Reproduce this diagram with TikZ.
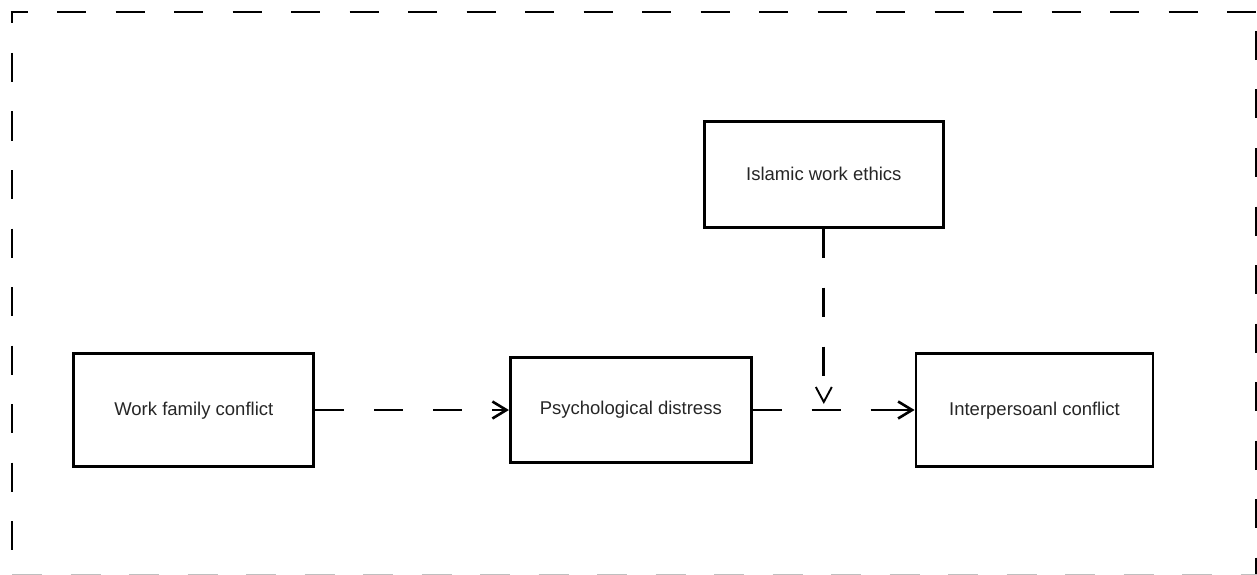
\documentclass[tikz,border=0pt]{standalone}
\usepackage{fontspec}
\setmainfont{Liberation Sans}
\usetikzlibrary{arrows.meta}
\begin{document}
\begin{tikzpicture}[x=1pt,y=-1pt,
  box/.style={draw, line width=2.8pt, inner sep=0pt, text=black!85,
    font=\fontsize{18.5}{22}\selectfont},
  border/.style={line width=2.6pt},
  conn/.style={line width=2.8pt, -{Straight Barb[length=14pt,width=17pt,line width=2.6pt]}},
  modarrow/.style={line width=2.8pt, dash pattern=on 29pt off 30pt,
    -{Straight Barb[length=15pt,width=16pt,line width=1.9pt]}}]
\useasboundingbox (0,0) rectangle (1257,575);
% dashed frame
\coordinate (tl) at (12,12);
\coordinate (tr) at (1255.8,12);
\coordinate (bl) at (12,575.3);
\coordinate (br) at (1257,575.3);
\draw[border, dash pattern=on 29pt off 29.5pt, dash phase=12pt] ([xshift=-1.3pt]tl) -- (tr |- tl);
\draw[border, dash pattern=on 29pt off 29.5pt, dash phase=17.5pt] (tl) -- (bl);
\draw[border, dash pattern=on 29pt off 29.5pt, dash phase=39.5pt] (tr) -- (tr |- br);
\draw[border, black!25, dash pattern=on 30pt off 28.5pt, dash phase=0pt] (bl) -- (br);
% boxes
\node[box, minimum width=240pt, minimum height=113pt] (wfc) at (193.8,410.3) {Work family conflict};
\node[box, minimum width=241pt, minimum height=105pt] (pd) at (630.8,409.8) {Psychological distress};
\node[box, minimum width=239pt, minimum height=106pt] (iwe) at (823.8,174.3) {Islamic work ethics};
\node[box, minimum width=237pt, minimum height=113pt] (ic) at (1034.5,410.3) {Interpersoanl conflict};
% connectors
\draw[conn, dash pattern=on 29pt off 30pt] (wfc.east |- 0,410) -- (pd.west |- 0,410);
\draw[conn, dash pattern=on 29pt off 30pt on 29pt off 30pt on 50pt off 100pt] (pd.east |- 0,410) -- (ic.west |- 0,410);
\coordinate (mod) at (iwe.south |- 0,404);
\draw[modarrow] (iwe.south) -- (mod);
\end{tikzpicture}
\end{document}
